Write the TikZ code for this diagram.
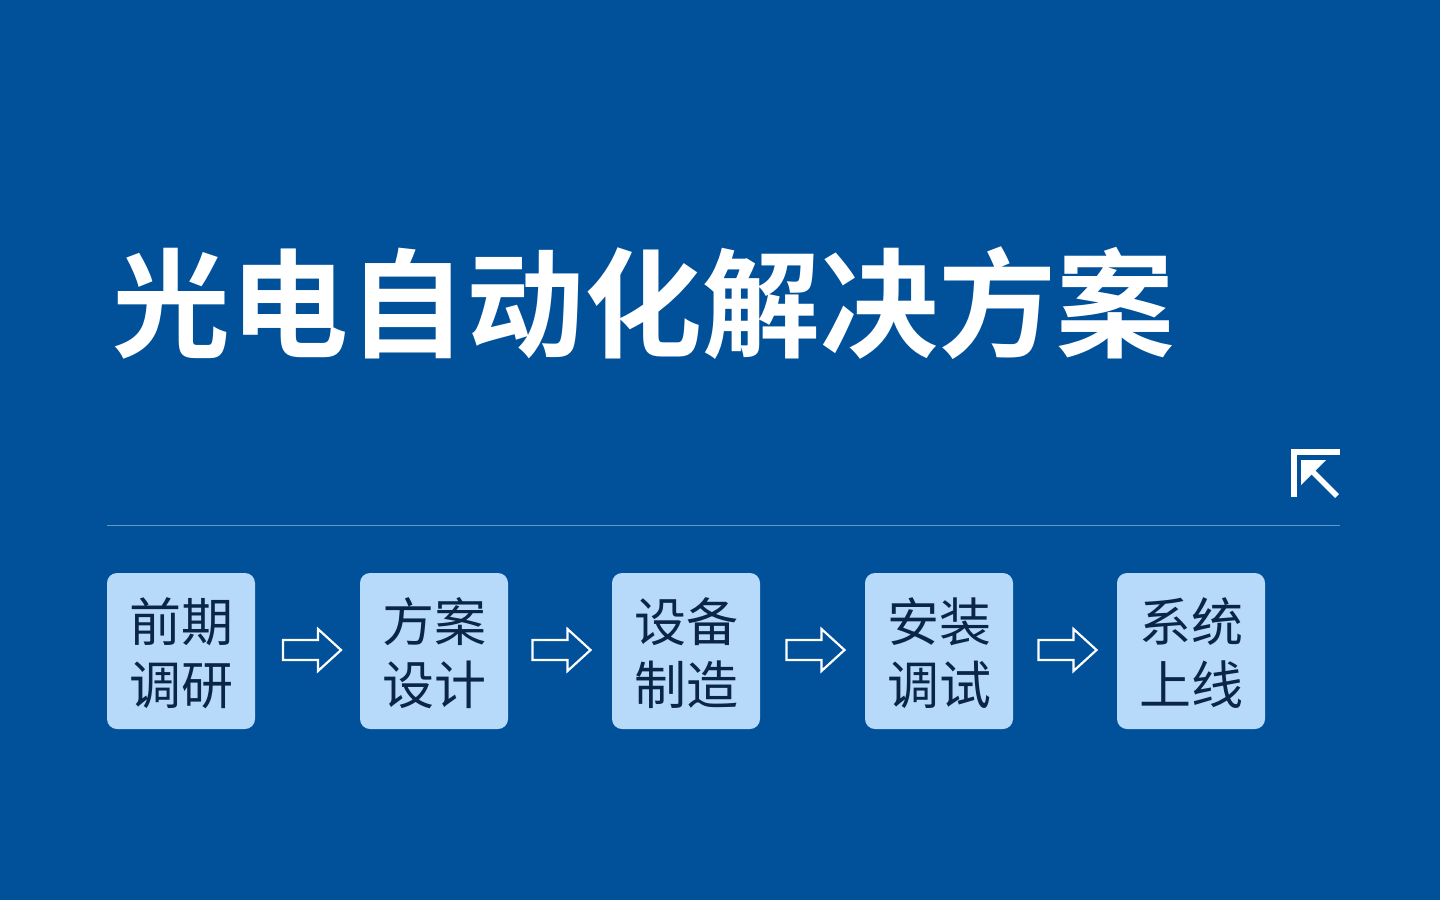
\documentclass[tikz,border=0pt]{standalone}
\usepackage{fontspec}
\newfontfamily\cjk{Noto Sans CJK SC}[BoldFont={Noto Sans CJK SC Bold}]
\definecolor{bgblue}{HTML}{00509A}
\definecolor{boxblue}{HTML}{B7DAFA}
\definecolor{navy}{HTML}{0A2546}
\newcommand\blockarrow[1]{\draw[barrow, shift={(#1)}] (-29,-10) -- (6,-10) -- (6,-21) -- (29,0) -- (6,21) -- (6,10) -- (-29,10) -- cycle;}
\begin{document}
\begin{tikzpicture}[x=1pt,y=-1pt,
  stepbox/.style={fill=boxblue, rounded corners=10pt, minimum width=148pt, minimum height=156pt, inner sep=0pt},
  steptext/.style={text=navy, font=\cjk\fontsize{52pt}{63pt}\selectfont, inner sep=0pt, anchor=base},
  barrow/.style={draw=white, line width=2.2pt, line join=miter},
  titletext/.style={text=white, font=\cjk\bfseries\fontsize{118pt}{130pt}\selectfont, inner sep=0pt, anchor=base west}]
\fill[bgblue] (0,0) rectangle (1440,900);
\path[use as bounding box] (0,0) rectangle (1440,900);

% title
\node[titletext] (title) at (112,348) {光电自动化解决方案};

% corner icon
\coordinate (icTL) at (1291,449);
\fill[white] (icTL) rectangle (1340,455);
\fill[white] (icTL) rectangle (1297,497);
\fill[white] (1301,460) -- (1326,460) -- (1301,485) -- cycle;
\draw[white, line width=5.5pt] (1310,469) -- (1337,496);

% divider
\coordinate (divL) at (107,525.5);
\coordinate (divR) at (1340,525.5);
\draw[white, opacity=0.4, line width=1.2pt] (divL) -- (divR);

% boxes
\node[stepbox] (b1) at (181,651) {};
\node[stepbox] (b2) at (434,651) {};
\node[stepbox] (b3) at (686,651) {};
\node[stepbox] (b4) at (939,651) {};
\node[stepbox] (b5) at (1191,651) {};

\node[steptext] (t1a) at (181,641) {前期};
\node[steptext] (t1b) at (181,704) {调研};
\node[steptext] (t2a) at (434,641) {方案};
\node[steptext] (t2b) at (434,704) {设计};
\node[steptext] (t3a) at (686,641) {设备};
\node[steptext] (t3b) at (686,704) {制造};
\node[steptext] (t4a) at (939,641) {安装};
\node[steptext] (t4b) at (939,704) {调试};
\node[steptext] (t5a) at (1191,641) {系统};
\node[steptext] (t5b) at (1191,704) {上线};

% arrows
\coordinate (a1) at (312,650);
\coordinate (a2) at (561.5,650);
\coordinate (a3) at (815.5,650);
\coordinate (a4) at (1067.5,650);
\blockarrow{a1}
\blockarrow{a2}
\blockarrow{a3}
\blockarrow{a4}
\end{tikzpicture}
\end{document}
